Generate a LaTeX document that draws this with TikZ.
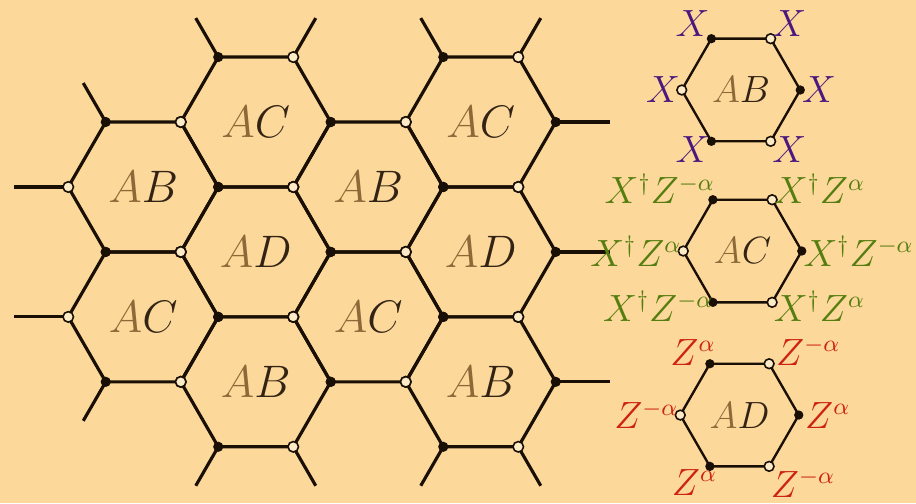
\documentclass[tikz,border=0pt]{standalone}
\usepackage{amsmath}
\usepackage{amssymb}
\usepackage{tikz}
\usetikzlibrary{calc}
\definecolor{bgcol}{RGB}{252,216,154}
\definecolor{linecol}{RGB}{25,15,5}
\definecolor{dotfill}{RGB}{253,234,198}
\definecolor{labA}{RGB}{140,105,55}
\definecolor{labB}{RGB}{50,35,20}
\definecolor{xpurple}{RGB}{75,25,125}
\definecolor{xgreen}{RGB}{85,125,15}
\definecolor{zred}{RGB}{205,35,20}
\newcommand{\hexlab}[2]{$\textcolor{labA}{#1}\textcolor{labB}{#2}$}

\begin{document}
\begin{tikzpicture}[
    bond/.style={draw=linecol, line width=1.2pt},
    thinbond/.style={draw=linecol, line width=0.9pt},
    plaq/.style={inner sep=0pt, font=\fontsize{16}{19}\selectfont},
    smallplaq/.style={inner sep=0pt, font=\fontsize{13.5}{16}\selectfont},
    oplabel/.style={inner sep=0.5pt, font=\fontsize{13.5}{16}\selectfont},
    blackdot/.style={fill=linecol},
    whitedot/.style={fill=dotfill, draw=linecol, line width=0.6pt}
]
\path[use as bounding box, fill=bgcol] (0,0) rectangle (12.213,6.707);

% lattice plaquettes
\node[plaq] (c1ab) at (1.91,4.214) {\hexlab{A}{B}};
\node[plaq] (c1ac) at (1.91,2.482) {\hexlab{A}{C}};
\node[plaq] (c2ac) at (3.41,5.080) {\hexlab{A}{C}};
\node[plaq] (c2ad) at (3.41,3.348) {\hexlab{A}{D}};
\node[plaq] (c2ab) at (3.41,1.616) {\hexlab{A}{B}};
\node[plaq] (c3ab) at (4.91,4.214) {\hexlab{A}{B}};
\node[plaq] (c3ac) at (4.91,2.482) {\hexlab{A}{C}};
\node[plaq] (c4ac) at (6.41,5.080) {\hexlab{A}{C}};
\node[plaq] (c4ad) at (6.41,3.348) {\hexlab{A}{D}};
\node[plaq] (c4ab) at (6.41,1.616) {\hexlab{A}{B}};

\foreach \h in {c1ab,c1ac,c2ac,c2ad,c2ab,c3ab,c3ac,c4ac,c4ad,c4ab}
  \draw[bond] ($(\h)+(0:1)$) -- ($(\h)+(60:1)$) -- ($(\h)+(120:1)$) -- ($(\h)+(180:1)$)
    -- ($(\h)+(240:1)$) -- ($(\h)+(300:1)$) -- cycle;

% open bonds at the boundary
\foreach \h/\a/\l in {c1ab/120/0.6, c1ab/180/0.72, c1ac/180/0.72, c1ac/240/0.6,
    c2ac/120/0.6, c2ac/60/0.6, c2ab/240/0.6, c2ab/300/0.6,
    c4ac/120/0.6, c4ac/60/0.6, c4ac/0/0.72, c4ad/0/0.72,
    c4ab/0/0.72, c4ab/240/0.6, c4ab/300/0.6}
  \draw[bond] ($(\h)+(\a:1)$) -- ++(\a:\l);

\foreach \h in {c1ab,c1ac,c2ac,c2ad,c2ab,c3ab,c3ac,c4ac,c4ad,c4ab} {
  \foreach \a in {0,120,240} \fill[blackdot] ($(\h)+(\a:1)$) circle (0.068);
  \foreach \a in {60,180,300} \filldraw[whitedot] ($(\h)+(\a:1)$) circle (0.07);
}

% single plaquettes with their operators
\node[smallplaq] (sab) at (9.88,5.507) {\hexlab{A}{B}};
\node[smallplaq] (sac) at (9.90,3.360) {\hexlab{A}{C}};
\node[smallplaq] (sad) at (9.86,1.173) {\hexlab{A}{D}};

\foreach \h in {sab,sac,sad} {
  \draw[thinbond] ($(\h)+(0:0.79)$) -- ($(\h)+(60:0.79)$) -- ($(\h)+(120:0.79)$) -- ($(\h)+(180:0.79)$)
    -- ($(\h)+(240:0.79)$) -- ($(\h)+(300:0.79)$) -- cycle;
  \foreach \a in {0,120,240} \fill[blackdot] ($(\h)+(\a:0.79)$) circle (0.062);
  \foreach \a in {60,180,300} \filldraw[whitedot] ($(\h)+(\a:0.79)$) circle (0.065);
}

\foreach \a/\anc/\dx/\dy/\t [count=\i] in {60/south west/0/0/X, 120/south east/0/0/X,
    180/east/0/0/X, 0/west/0/0/X, 240/north east/0/0.09/X, 300/north west/0/0.09/X}
  \node[oplabel, text=xpurple, anchor=\anc, xshift=\dx cm, yshift=\dy cm] (sab-\i)
    at ($(sab)+(\a:0.79)$) {$\t$};

\foreach \a/\anc/\dx/\dy/\t [count=\i] in {60/south west/0/-0.08/X^\dagger Z^{\alpha},
    120/south east/0.05/-0.08/X^\dagger Z^{-\alpha},
    180/east/0/0/X^\dagger Z^{\alpha}, 0/west/0/0/X^\dagger Z^{-\alpha},
    240/north east/0.03/0.17/X^\dagger Z^{-\alpha}, 300/north west/0/0.17/X^\dagger Z^{\alpha}}
  \node[oplabel, text=xgreen, anchor=\anc, xshift=\dx cm, yshift=\dy cm] (sac-\i)
    at ($(sac)+(\a:0.79)$) {$\t$};

\foreach \a/\anc/\dx/\dy/\t [count=\i] in {60/south west/0.07/-0.05/Z^{-\alpha},
    120/south east/0.1/-0.05/Z^{\alpha},
    180/east/0/0/Z^{-\alpha}, 0/west/0.06/0/Z^{\alpha},
    240/north east/0.12/-0.02/Z^{\alpha}, 300/north west/0/-0.02/Z^{-\alpha}}
  \node[oplabel, text=zred, anchor=\anc, xshift=\dx cm, yshift=\dy cm] (sad-\i)
    at ($(sad)+(\a:0.79)$) {$\t$};
\end{tikzpicture}
\end{document}
